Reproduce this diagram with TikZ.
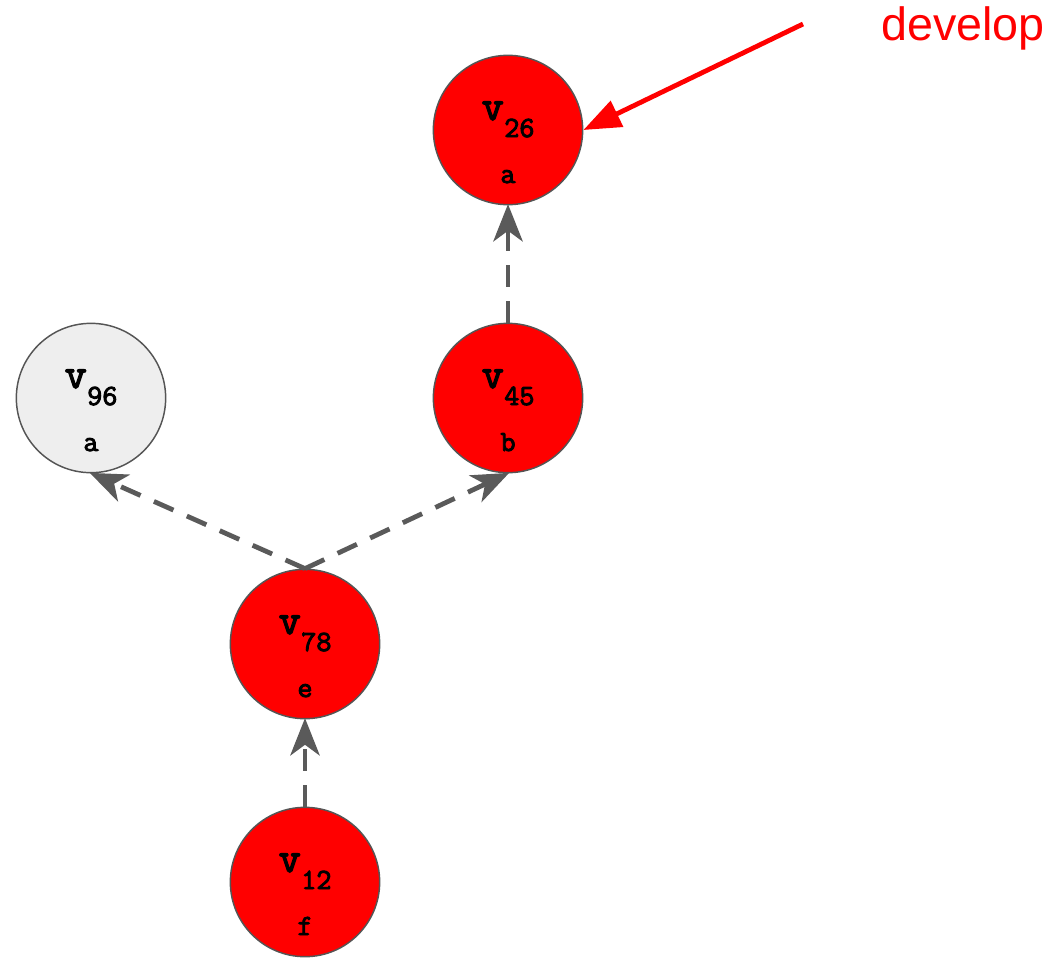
\documentclass[tikz,border=0pt]{standalone}
\usepackage{fontspec}
\setmainfont{Liberation Sans}
\newfontfamily\codefont[FakeBold=3.2]{Latin Modern Mono}
\usetikzlibrary{arrows.meta,calc}
\definecolor{edgegray}{HTML}{5A5A5A}
\definecolor{bordergray}{HTML}{555555}
\definecolor{lightfill}{HTML}{EEEEEE}
\begin{document}
\begin{tikzpicture}[x=0.75pt,y=-0.75pt,
  vtx/.style={circle,draw=bordergray,line width=1.1pt,minimum size=112pt,inner sep=0pt},
  hot/.style={vtx,fill=red},
  cold/.style={vtx,fill=lightfill},
  vname/.style={font=\codefont\fontsize{32}{32}\selectfont,inner sep=0pt,anchor=base east},
  vsub/.style={font=\codefont\fontsize{22}{22}\selectfont,inner sep=0pt,anchor=base west},
  vlab/.style={font=\codefont\fontsize{22}{22}\selectfont,inner sep=0pt,anchor=base},
  dep/.style={draw=edgegray,line width=3.6pt,dash pattern=on 16pt off 11pt,
    -{Stealth[length=28pt,width=22pt,inset=8pt]},shorten >=-1pt},
  ptr/.style={draw=red,line width=3.6pt,-{Triangle[length=28pt,width=21pt]}}
]
\useasboundingbox (0,0) rectangle (1062,957);
\node[hot]  (v26) at (508,130) {};
\node[hot]  (v45) at (508,398) {};
\node[cold] (v96) at (91,398) {};
\node[hot]  (v78) at (305,644) {};
\node[hot]  (v12) at (305,882) {};
\foreach \n/\s/\l in {v26/26/a,v45/45/b,v96/96/a,v78/78/e,v12/12/f}{
  \node[vname] (\n name) at ($(\n)+(-4,-10)$) {v};
  \node[vsub] (\n sub) at ($(\n)+(-4,7)$) {\s};
  \node[vlab] (\n lab) at ($(\n)+(0,53)$) {\l};
}
\draw[dep] (v45.north) -- (v26.south);
\draw[dep] (v78.north) -- (v96.south);
\draw[dep] (v78.north) -- (v45.south);
\draw[dep] (v12.north) -- (v78.south);
\node[font=\fontsize{35}{35}\selectfont,text=red,inner sep=0pt,anchor=base west] (dev) at (881,40) {develop};
\coordinate (devstart) at (803,24);
\draw[ptr] (devstart) -- (v26.east);
\end{tikzpicture}
\end{document}
